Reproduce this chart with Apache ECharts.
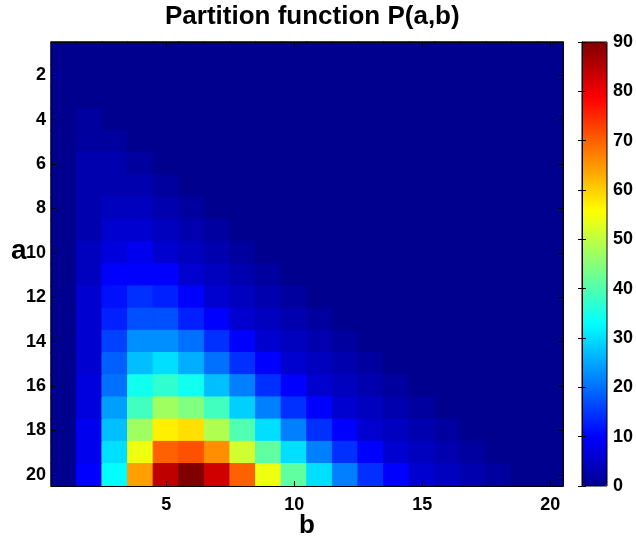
<!DOCTYPE html>
<html>
<head>
<meta charset="utf-8">
<script src="https://cdn.jsdelivr.net/npm/echarts@6/dist/echarts.min.js"></script>
<style>html,body{margin:0;padding:0;background:#fff}#c{width:636px;height:540px}</style>
</head>
<body>
<div id="c"></div>
<script>
// Categories
var bCats = ['1','2','3','4','5','6','7','8','9','10','11','12','13','14','15','16','17','18','19','20'];
var aCats = ['1','2','3','4','5','6','7','8','9','10','11','12','13','14','15','16','17','18','19','20'];
// Values P(a,b), one row per a (b = 1..a; zero for b > a)
var row1  = [1];
var row2  = [1,1];
var row3  = [1,1,1];
var row4  = [1,2,1,1];
var row5  = [1,2,2,1,1];
var row6  = [1,3,3,2,1,1];
var row7  = [1,3,4,3,2,1,1];
var row8  = [1,4,5,5,3,2,1,1];
var row9  = [1,4,7,6,5,3,2,1,1];
var row10 = [1,5,8,9,7,5,3,2,1,1];
var row11 = [1,5,10,11,10,7,5,3,2,1,1];
var row12 = [1,6,12,15,13,11,7,5,3,2,1,1];
var row13 = [1,6,14,18,18,14,11,7,5,3,2,1,1];
var row14 = [1,7,16,23,23,20,15,11,7,5,3,2,1,1];
var row15 = [1,7,19,27,30,26,21,15,11,7,5,3,2,1,1];
var row16 = [1,8,21,34,37,35,28,22,15,11,7,5,3,2,1,1];
var row17 = [1,8,24,39,47,44,38,29,22,15,11,7,5,3,2,1,1];
var row18 = [1,9,27,47,57,58,49,40,30,22,15,11,7,5,3,2,1,1];
var row19 = [1,9,30,54,70,71,65,52,41,30,22,15,11,7,5,3,2,1,1];
var row20 = [1,10,33,64,84,90,82,70,54,42,30,22,15,11,7,5,3,2,1,1];
var rows = [row1,row2,row3,row4,row5,row6,row7,row8,row9,row10,row11,row12,row13,row14,row15,row16,row17,row18,row19,row20];
var colorbarTicks = [0,10,20,30,40,50,60,70,80,90];
var cMin = 0, cMax = 90;

// jet(64) colormap
function jet(i){
  var k=i+1, r, g, b;
  if(k<=8){b=(k+8)/16;} else if(k<=24){b=1;} else if(k<=40){b=(40-k)/16;} else {b=0;}
  if(k<=8){g=0;} else if(k<=24){g=(k-8)/16;} else if(k<=40){g=1;} else if(k<=56){g=(56-k)/16;} else {g=0;}
  if(k<=24){r=0;} else if(k<=40){r=(k-24)/16;} else if(k<=56){r=1;} else {r=(72-k)/16;}
  return 'rgb('+Math.round(r*255)+','+Math.round(g*255)+','+Math.round(b*255)+')';
}
var jetColors=[]; for(var i=0;i<64;i++) jetColors.push(jet(i));
function colorOf(v){
  var idx=Math.floor((v-cMin)/(cMax-cMin)*64);
  if(idx<0) idx=0; if(idx>63) idx=63;
  return jetColors[idx];
}

var data=[];
for(var a=0;a<aCats.length;a++){
  for(var b=0;b<bCats.length;b++){
    var v = b < rows[a].length ? rows[a][b] : 0;
    var c = colorOf(v);
    data.push({value:[b,a,v],itemStyle:{color:c,borderColor:c,borderWidth:1}});
  }
}

var FONT='"Liberation Sans", Arial, Helvetica, sans-serif';
var lab={color:'#000',fontFamily:FONT,fontWeight:'bold',fontSize:18};
var G={left:51,top:42,width:512,height:444};
var chart=echarts.init(document.getElementById('c'),null,{renderer:'canvas'});
var xInt=function(idx){return idx%5===4;};
var yInt=function(idx){return idx%2===1;};
chart.setOption({
  animation:false,
  backgroundColor:'#fff',
  title:{text:'Partition function P(a,b)',left:160,top:-1,textStyle:{fontFamily:FONT,fontWeight:'bold',fontSize:26,color:'#000'}},
  graphic:[
    {type:'text',left:11,top:237,z:20,style:{text:'a',fill:'#000',font:'bold 28px "Liberation Sans", Arial, sans-serif'}}
  ],
  grid:[
    {left:G.left,top:G.top,width:G.width,height:G.height,containLabel:false,outerBoundsMode:'none'},
    {left:582,top:42,width:25,height:444,show:true,borderColor:'#000',borderWidth:1,backgroundColor:'transparent',z:10,outerBoundsMode:'none'}
  ],
  xAxis:[
    {type:'category',data:bCats,gridIndex:0,position:'bottom',z:10,
     name:'b',nameLocation:'middle',nameGap:27,nameMoveOverlap:false,
     nameTextStyle:{fontFamily:FONT,fontWeight:'bold',fontSize:26,color:'#000'},
     axisLine:{show:true,lineStyle:{color:'#000',width:1}},
     axisTick:{show:true,inside:true,length:5,alignWithLabel:true,interval:xInt,lineStyle:{color:'#000'}},
     axisLabel:Object.assign({interval:xInt,margin:10},lab),splitLine:{show:false}},
    {type:'category',data:bCats,gridIndex:0,position:'top',z:10,
     axisLine:{show:true,lineStyle:{color:'#000',width:1}},
     axisTick:{show:true,inside:true,length:5,alignWithLabel:true,interval:xInt,lineStyle:{color:'#000'}},
     axisLabel:{show:false},splitLine:{show:false}},
    {type:'value',gridIndex:1,min:0,max:1,show:false}
  ],
  yAxis:[
    {type:'category',data:aCats,gridIndex:0,inverse:true,position:'left',z:10,
     axisLine:{show:true,lineStyle:{color:'#000',width:1}},
     axisTick:{show:true,inside:true,length:5,alignWithLabel:true,interval:yInt,lineStyle:{color:'#000'}},
     axisLabel:Object.assign({interval:yInt,margin:5},lab),splitLine:{show:false}},
    {type:'category',data:aCats,gridIndex:0,inverse:true,position:'right',z:10,
     axisLine:{show:true,lineStyle:{color:'#000',width:1}},
     axisTick:{show:true,inside:true,length:5,alignWithLabel:true,interval:yInt,lineStyle:{color:'#000'}},
     axisLabel:{show:false},splitLine:{show:false}},
    {type:'value',gridIndex:1,min:cMin,max:cMax,interval:10,position:'right',z:10,
     axisLine:{show:true,lineStyle:{color:'#000',width:1}},
     axisTick:{show:true,inside:true,length:4,lineStyle:{color:'#000'}},
     axisLabel:Object.assign({margin:6,formatter:function(v){return colorbarTicks.indexOf(v)>=0?String(v):'';}},lab),
     splitLine:{show:false}},
    {type:'value',gridIndex:1,min:cMin,max:cMax,interval:10,position:'left',z:10,
     axisLine:{show:true,lineStyle:{color:'#000',width:1}},
     axisTick:{show:true,inside:true,length:4,lineStyle:{color:'#000'}},
     axisLabel:{show:false},splitLine:{show:false}}
  ],
  visualMap:{type:'continuous',min:cMin,max:cMax,calculable:false,seriesIndex:1,
    left:582,top:42,itemWidth:25,itemHeight:444,padding:0,text:['',''],showLabel:false,
    inRange:{color:jetColors}},
  series:[
    {type:'heatmap',xAxisIndex:0,yAxisIndex:0,data:data,emphasis:{disabled:true}},
    {type:'scatter',xAxisIndex:2,yAxisIndex:2,data:[],silent:true}
  ]
});
</script>
</body>
</html>
